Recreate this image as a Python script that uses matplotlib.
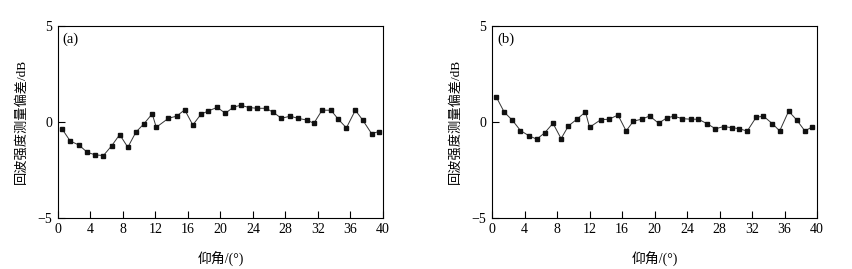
import matplotlib.pyplot as plt
import numpy as np

plt.rcParams['font.family'] = ['Liberation Serif', 'Noto Sans CJK SC']

# elevation angle (deg) and echo intensity deviation (dB)
x_a = [0.5, 1.5, 2.6, 3.6, 4.6, 5.6, 6.6, 7.6, 8.6, 9.6,
       10.6, 11.6, 12.1, 13.6, 14.6, 15.6, 16.6, 17.6, 18.5, 19.6,
       20.6, 21.6, 22.5, 23.5, 24.5, 25.6, 26.5, 27.5, 28.6, 29.5,
       30.6, 31.5, 32.5, 33.6, 34.5, 35.5, 36.6, 37.5, 38.6, 39.5]
y_a = [-0.36, -0.99, -1.21, -1.58, -1.72, -1.75, -1.25, -0.66, -1.32, -0.53,
       -0.09, 0.42, -0.28, 0.19, 0.30, 0.63, -0.16, 0.40, 0.57, 0.76,
       0.45, 0.77, 0.87, 0.75, 0.71, 0.71, 0.50, 0.19, 0.30, 0.19,
       0.10, -0.07, 0.61, 0.61, 0.14, -0.31, 0.61, 0.10, -0.61, -0.50]

x_b = [0.5, 1.5, 2.5, 3.5, 4.5, 5.5, 6.5, 7.5, 8.5, 9.4,
       10.5, 11.5, 12.0, 13.4, 14.4, 15.5, 16.5, 17.4, 18.4, 19.4,
       20.5, 21.5, 22.4, 23.4, 24.5, 25.4, 26.5, 27.5, 28.5, 29.5,
       30.4, 31.4, 32.5, 33.4, 34.5, 35.4, 36.5, 37.5, 38.5, 39.4]
y_b = [1.32, 0.51, 0.09, -0.45, -0.71, -0.90, -0.56, -0.07, -0.87, -0.21,
       0.16, 0.52, -0.28, 0.12, 0.14, 0.36, -0.47, 0.04, 0.14, 0.31,
       -0.07, 0.21, 0.30, 0.17, 0.14, 0.14, -0.10, -0.36, -0.24, -0.30,
       -0.35, -0.48, 0.24, 0.30, -0.09, -0.47, 0.56, 0.10, -0.47, -0.26]

x_ticks = [0, 4, 8, 12, 16, 20, 24, 28, 32, 36, 40]
y_ticks = [-5, 0, 5]
ylabel = '回波强度测量偏差/dB'
xlabel = '仰角/(°)'

fig = plt.figure(figsize=(8.52, 2.69), dpi=100)
ax_a = fig.add_axes([0.068, 0.19, 0.3815, 0.7135])
ax_b = fig.add_axes([0.5775, 0.19, 0.3815, 0.7135])

for ax, xs, ys, tag in [(ax_a, x_a, y_a, '(a)'), (ax_b, x_b, y_b, '(b)')]:
    ax.plot(xs, ys, color='#333333', lw=0.7, marker='s', ms=2.6,
            mfc='#111111', mec='#111111')
    ax.set_xlim(0, 40)
    ax.set_ylim(-5, 5)
    ax.set_xticks(x_ticks)
    ax.set_yticks(y_ticks)
    ax.tick_params(direction='in', length=5, width=0.8, labelsize=10,
                   top=False, right=False, pad=4)
    for s in ax.spines.values():
        s.set_linewidth(0.8)
    ax.text(0.015, 0.965, tag, transform=ax.transAxes, fontsize=10.5,
            ha='left', va='top')
    ax.set_xlabel(xlabel, fontsize=10, labelpad=11)
    ax.set_ylabel(ylabel, fontsize=9.5, labelpad=7)

fig.savefig('out.png', dpi=100)
